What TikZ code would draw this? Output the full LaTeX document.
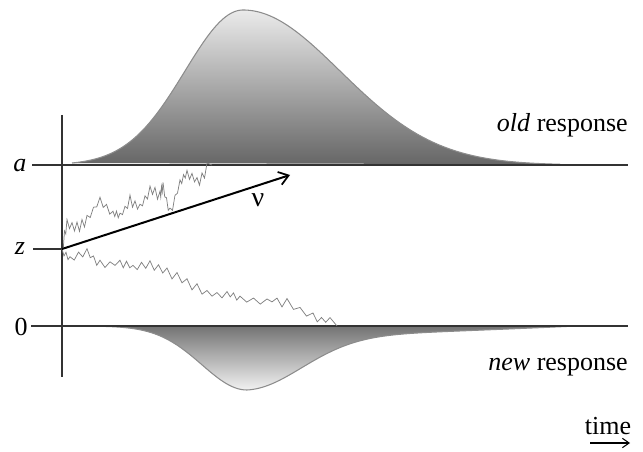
\documentclass[tikz,border=0pt]{standalone}
\usepackage{fontspec}
\setmainfont{Liberation Serif}
\usetikzlibrary{arrows.meta}
\begin{document}
\begin{tikzpicture}[x=0.75pt,y=-0.75pt,
  axisline/.style={line width=1.1pt,black!80},
  outline/.style={line width=0.8pt,black!45},
  walk/.style={line width=0.55pt,black!50,line join=miter},
  lbl/.style={font=\fontsize{19.5}{22}\selectfont,inner sep=0pt},
  driftarrow/.style={line width=1.5pt,-{Straight Barb[length=7pt,width=10pt,line width=1.3pt]}}]
\useasboundingbox (0,0) rectangle (643,452);
% coordinates
\coordinate (axtop) at (62,115);
\coordinate (axbot) at (62,377);
\coordinate (aL) at (32,165);
\coordinate (aR) at (628,165);
\coordinate (zL) at (33,249);
\coordinate (z0) at (62,249);
\coordinate (oL) at (31,326);
\coordinate (oR) at (628,326);
\coordinate (vend) at (290,175);
\coordinate (hitA) at (212,165);
\coordinate (hitO) at (337,326);
\coordinate (tL) at (590,443);
\coordinate (tR) at (630,443);
\def\oldfn{165-155*exp(-0.5*((\x-243)/(\x<243 ? 58 : 97))^2)}
\def\newfn{326+(\x<247 ? 64*exp(-0.5*((\x-247)/45)^2) : 50*exp(-0.5*((\x-247)/55)^2)+14*exp(-(\x-247)/250)*(1-((\x-247)/330)^4))}
% old response distribution
\shade[top color=black!8,bottom color=black!60]
  plot[domain=72:560,samples=160] (\x,{\oldfn}) -- cycle;
\draw[outline] plot[domain=72:560,samples=160] (\x,{\oldfn});
% new response distribution
\shade[top color=black!55,bottom color=black!5]
  plot[domain=100:577,samples=160] (\x,{\newfn}) -- cycle;
\draw[outline] plot[domain=100:577,samples=160] (\x,{\newfn});
% axes and boundaries
\draw[axisline] (axtop) -- (axbot);
\draw[axisline] (aL) -- (aR);
\draw[axisline] (zL) -- (z0);
\draw[axisline] (oL) -- (oR);
% random walks
\pgfmathsetseed{11}
\draw[walk] (z0)
  \foreach \x/\y [remember=\x as \xp (initially 62), remember=\y as \yp (initially 249)] in
  {67/223,77/227,87/220,100/200,113/213,120/217,130/200,140/207,150/190,160/197,163/187,170/212,180/183,187/172,197/183,207/168}
  { \foreach \k in {1,2,3,4} { -- ({\xp+(\x-\xp)*\k/4},{\yp+(\y-\yp)*\k/4+(2*mod(\k,2)-1)*(1.5+5*rnd)}) } }
  -- (hitA);
\pgfmathsetseed{5}
\draw[walk] (z0)
  \foreach \x/\y [remember=\x as \xp (initially 62), remember=\y as \yp (initially 249)] in
  {70/258,87/253,100/263,120/263,133/267,150/265,167/273,187/282,207/295,227/293,240/300,267/300,287/303,313/317,330/322}
  { \foreach \k in {1,2,3,4} { -- ({\xp+(\x-\xp)*\k/4},{\yp+(\y-\yp)*\k/4+(2*mod(\k,2)-1)*(1+4*rnd)}) } }
  -- (hitO);
% drift arrow
\draw[driftarrow] (z0) -- (vend);
% labels
\node[lbl,font=\fontsize{21}{22}\selectfont] (nu) at (258,200) {ν};
\node[lbl] (la) at (20,166) {\textit{a}};
\node[lbl] (lz) at (20,249) {\textit{z}};
\node[lbl] (l0) at (21,327) {0};
\node[lbl,anchor=east] (old) at (628,125) {\textit{old} response};
\node[lbl,anchor=east] (new) at (628,367) {\textit{new} response};
\node[lbl] (time) at (608,426) {time};
\draw[line width=0.8pt,-{Straight Barb[length=5pt,width=7pt]}] (tL) -- (tR);
\end{tikzpicture}
\end{document}
